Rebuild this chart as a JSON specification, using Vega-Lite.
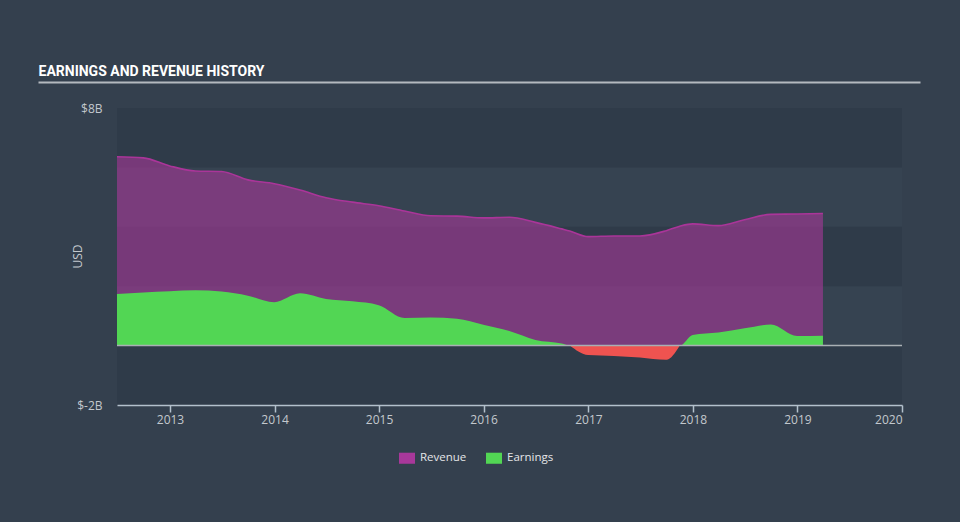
{
  "$schema": "https://vega.github.io/schema/vega-lite/v6.json",
  "width": 785,
  "height": 297,
  "autosize": {"type": "none"},
  "padding": {"left": 117, "top": 108, "right": 58, "bottom": 117},
  "background": "#34404e",
  "config": {
    "view": {"fill": "#2f3b49", "stroke": null},
    "font": "Open Sans"
  },
  "datasets": {
    "history": [
      {"date": "2012-06-30", "revenue": 6.36, "earnings": 1.74},
      {"date": "2012-09-30", "revenue": 6.32, "earnings": 1.79},
      {"date": "2012-12-31", "revenue": 6.05, "earnings": 1.83},
      {"date": "2013-03-31", "revenue": 5.88, "earnings": 1.86},
      {"date": "2013-06-30", "revenue": 5.86, "earnings": 1.82},
      {"date": "2013-09-30", "revenue": 5.58, "earnings": 1.68},
      {"date": "2013-12-31", "revenue": 5.45, "earnings": 1.46},
      {"date": "2014-03-31", "revenue": 5.24, "earnings": 1.76},
      {"date": "2014-06-30", "revenue": 4.98, "earnings": 1.57},
      {"date": "2014-09-30", "revenue": 4.83, "earnings": 1.49},
      {"date": "2014-12-31", "revenue": 4.71, "earnings": 1.36},
      {"date": "2015-03-31", "revenue": 4.53, "earnings": 0.93},
      {"date": "2015-06-30", "revenue": 4.37, "earnings": 0.95},
      {"date": "2015-09-30", "revenue": 4.36, "earnings": 0.90},
      {"date": "2015-12-31", "revenue": 4.30, "earnings": 0.70},
      {"date": "2016-03-31", "revenue": 4.32, "earnings": 0.49},
      {"date": "2016-06-30", "revenue": 4.15, "earnings": 0.19},
      {"date": "2016-09-30", "revenue": 3.93, "earnings": 0.07},
      {"date": "2016-10-28", "revenue": 3.86, "earnings": 0},
      {"date": "2016-12-31", "revenue": 3.67, "earnings": -0.32},
      {"date": "2017-03-31", "revenue": 3.69, "earnings": -0.35},
      {"date": "2017-06-30", "revenue": 3.69, "earnings": -0.40},
      {"date": "2017-09-30", "revenue": 3.87, "earnings": -0.48},
      {"date": "2017-11-16", "revenue": 4.02, "earnings": 0},
      {"date": "2017-12-31", "revenue": 4.10, "earnings": 0.36},
      {"date": "2018-03-31", "revenue": 4.04, "earnings": 0.44},
      {"date": "2018-06-30", "revenue": 4.24, "earnings": 0.58},
      {"date": "2018-09-30", "revenue": 4.42, "earnings": 0.71},
      {"date": "2018-12-31", "revenue": 4.43, "earnings": 0.32},
      {"date": "2019-03-31", "revenue": 4.45, "earnings": 0.33}
    ],
    "bands": [
      {"lo": 0, "hi": 2},
      {"lo": 4, "hi": 6}
    ]
  },
  "layer": [
    {
      "data": {"name": "history"},
      "layer": [
        {
          "data": {"name": "bands"},
          "mark": {"type": "rect", "color": "#364351"},
          "encoding": {
            "y": {
              "field": "lo",
              "type": "quantitative",
              "scale": {"domain": [-2, 8], "nice": false},
              "axis": {
                "title": "USD",
                "values": [-2, 8],
                "labelExpr": "'$' + datum.value + 'B'",
                "domain": false,
                "ticks": false,
                "grid": false,
                "labelPadding": 15,
                "labelColor": "#c3c8cd",
                "labelFontSize": 12,
                "titleColor": "#c3c8cd",
                "titleFontSize": 12,
                "titleFontWeight": "normal",
                "titleX": -33,
                "titleY": 148
              }
            },
            "y2": {"field": "hi"}
          }
        },
        {
          "mark": {"type": "area", "interpolate": "monotone", "fillOpacity": 0.6},
          "encoding": {
            "x": {
              "field": "date",
              "type": "temporal",
              "scale": {"type": "utc", "domain": [{"year": 2012, "month": 6, "date": 30, "utc": true}, {"year": 2020, "month": 1, "date": 1, "utc": true}]},
              "axis": {
                "orient": "bottom",
                "title": null,
                "format": "%Y",
                "formatType": "utc",
                "tickCount": "year",
                "grid": false,
                "domainColor": "#b3c0cc",
                "domainWidth": 1.5,
                "tickColor": "#b3c0cc",
                "tickWidth": 1.5,
                "tickSize": 7,
                "labelColor": "#c3c8cd",
                "labelFontSize": 12,
                "labelPadding": 2,
                "labelFlush": true
              }
            },
            "y": {"field": "revenue", "type": "quantitative"},
            "y2": {"datum": 0},
            "color": {
              "datum": "Revenue",
              "type": "nominal",
              "scale": {"domain": ["Revenue", "Earnings"], "range": ["#a8389a", "#52d654"]},
              "legend": {
                "orient": "none",
                "legendX": 282,
                "legendY": 342,
                "direction": "horizontal",
                "title": null,
                "symbolType": "M-1,-0.69H1V0.69H-1Z",
                "symbolSize": 256,
                "symbolOpacity": 1,
                "symbolStrokeWidth": 0,
                "labelColor": "#e4e6e8",
                "labelFontSize": 11.5,
                "labelOffset": 5,
                "columnPadding": 19
              }
            }
          }
        },
        {
          "mark": {"type": "line", "interpolate": "monotone", "color": "#aa3599", "strokeWidth": 1.6},
          "encoding": {
            "x": {"field": "date", "type": "temporal"},
            "y": {"field": "revenue", "type": "quantitative"}
          }
        },
        {
          "transform": [{"filter": "datum.earnings >= 0"}],
          "mark": {"type": "area", "interpolate": "monotone"},
          "encoding": {
            "x": {"field": "date", "type": "temporal"},
            "y": {"field": "earnings", "type": "quantitative"},
            "y2": {"datum": 0},
            "color": {"datum": "Earnings", "type": "nominal"}
          }
        },
        {
          "transform": [{"filter": "datum.earnings <= 0"}],
          "mark": {"type": "area", "interpolate": "monotone", "color": "#ef5350"},
          "encoding": {
            "x": {"field": "date", "type": "temporal"},
            "y": {"field": "earnings", "type": "quantitative"},
            "y2": {"datum": 0}
          }
        },
        {
          "data": {"values": [{}]},
          "mark": {"type": "rule", "color": "#a9afb4", "strokeWidth": 1.5},
          "encoding": {"y": {"datum": 0}}
        }
      ]
    },
    {
      "data": {"values": [{}]},
      "mark": {"type": "point", "opacity": 0},
      "encoding": {
        "x": {
          "datum": 0,
          "type": "quantitative",
          "scale": {"domain": [0, 1], "range": [-79, 803]},
          "axis": {
            "orient": "top",
            "offset": 26,
            "domain": true,
            "domainColor": "#b4b9bf",
            "domainWidth": 2,
            "ticks": false,
            "labels": false,
            "grid": false,
            "title": "EARNINGS AND REVENUE HISTORY",
            "titleAnchor": "start",
            "titleAlign": "left",
            "titleBaseline": "alphabetic",
            "titleFont": "Roboto, sans-serif",
            "titleFontSize": 14,
            "titleFontWeight": "bold",
            "titleColor": "#ffffff",
            "titlePadding": 7
          }
        }
      }
    }
  ],
  "resolve": {"scale": {"x": "independent"}, "axis": {"x": "independent"}}
}
